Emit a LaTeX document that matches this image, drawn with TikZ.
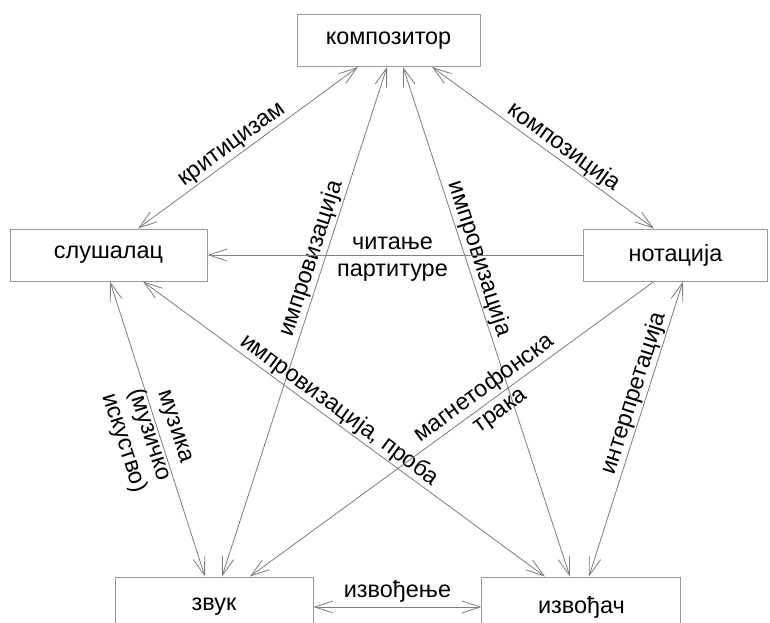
\documentclass[tikz,border=0pt]{standalone}
\usepackage{fontspec}
\setmainfont{Liberation Sans}
\usepackage{xcolor}
\usetikzlibrary{arrows.meta, positioning, calc}

\definecolor{lineg}{HTML}{7F7F7F}
\definecolor{boxg}{HTML}{999999}

\begin{document}
\begin{tikzpicture}[
    x=0.03cm, y=-0.03cm,
    >={Straight Barb[length=5.5mm, width=3.6mm]},
    every node/.style={font=\fontsize{20}{23}\selectfont},
    box/.style={rectangle, draw=boxg, line width=0.8pt,
                minimum height=1.56cm, align=center},
    arr/.style={<->, draw=lineg, line width=0.7pt},
    lbl/.style={sloped, inner sep=1pt}
]
    \useasboundingbox (0,0) rectangle (770,623);
    \clip (0,0) rectangle (770,623);

    \node[box, minimum width=5.49cm] (komp) at (388.5,40.5) {композитор};
    \node[box, minimum width=5.91cm] (slus) at (108.5,255) {слушалац};
    \node[box, minimum width=5.49cm, right=11.28cm of slus] (nota) {нотација};
    \node[box, minimum width=5.94cm, minimum height=1.8cm] (zvuk) at (214,607) {звук};
    \node[box, minimum width=5.97cm, minimum height=1.8cm, right=5.04cm of zvuk] (izvo) {извођач};

    % from the top box
    \draw[arr] ($(slus.north)+(29.5,0)$) -- node[lbl, above, pos=0.46] {критицизам} ($(komp.south)+(-30.5,0)$);
    \draw[arr] ($(komp.south)+(43.5,0)$) -- node[lbl, above, pos=0.56] {композиција} ($(nota.north)+(-21.5,0)$);
    \draw[arr] ($(zvuk.north)+(8,0)$) -- node[lbl, above, pos=0.616] {импровизација} ($(komp.south)+(-1.5,0)$);
    \draw[arr] ($(komp.south)+(14.5,0)$) -- node[lbl, above, pos=0.384] {импровизација} ($(izvo.north)+(-11.5,0)$);

    % middle row
    \draw[arr, ->] (nota.west) -- node[align=center, pos=0.508, yshift=-3.4pt] {читање\\партитуре} (slus.east);
    \draw[arr] ($(slus.south)+(1.5,0)$) -- node[lbl, align=center, pos=0.51, yshift=-9.5pt] {музика\\(музичко\\искуство)} ($(zvuk.north)+(-9,0)$);
    \draw[arr] ($(slus.south)+(34.5,0)$) -- node[lbl, above, pos=0.47] {импровизација, проба} ($(izvo.north)+(-36.5,0)$);
    \draw[arr, <-] ($(zvuk.north)+(36,0)$) -- node[lbl, align=center, pos=0.6] {магнетофонска\\трака} ($(nota.south)+(-21.5,0)$);
    \draw[arr] ($(izvo.north)+(7.5,0)$) -- node[lbl, above, pos=0.608] {интерпретација} ($(nota.south)+(7.5,0)$);

    % bottom row
    \draw[arr] (zvuk.east) -- node[above] {извођење} (izvo.west);
\end{tikzpicture}
\end{document}
